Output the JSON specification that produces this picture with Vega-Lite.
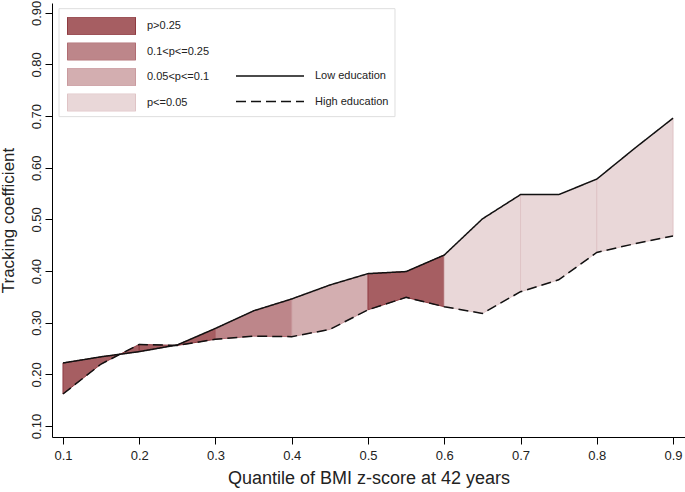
{
  "$schema": "https://vega.github.io/schema/vega-lite/v6.json",
  "autosize": "none",
  "width": 633,
  "height": 434,
  "padding": {"left": 52, "top": 3, "right": 0, "bottom": 55},
  "background": "white",
  "config": {
    "view": {"stroke": null},
    "font": "Liberation Sans",
    "axis": {
      "domainColor": "#000000",
      "tickColor": "#000000",
      "tickSize": 7,
      "grid": false,
      "labelFont": "Liberation Sans",
      "labelFontSize": 13,
      "labelColor": "#222222",
      "titleFont": "Liberation Sans",
      "titleFontWeight": "normal",
      "titleColor": "#222222"
    },
    "legend": {
      "labelFont": "Liberation Sans",
      "labelFontSize": 11,
      "labelColor": "#222222"
    }
  },
  "datasets": {
    "curve": [
      {"q": 0.10, "low": 0.222, "high": 0.162},
      {"q": 0.15, "low": 0.234, "high": 0.220},
      {"q": 0.20, "low": 0.244, "high": 0.258},
      {"q": 0.25, "low": 0.257, "high": 0.256},
      {"q": 0.30, "low": 0.289, "high": 0.268},
      {"q": 0.35, "low": 0.323, "high": 0.274},
      {"q": 0.40, "low": 0.346, "high": 0.273},
      {"q": 0.45, "low": 0.373, "high": 0.287},
      {"q": 0.50, "low": 0.395, "high": 0.325},
      {"q": 0.55, "low": 0.399, "high": 0.349},
      {"q": 0.60, "low": 0.431, "high": 0.331},
      {"q": 0.65, "low": 0.501, "high": 0.318},
      {"q": 0.70, "low": 0.548, "high": 0.360},
      {"q": 0.75, "low": 0.548, "high": 0.383},
      {"q": 0.80, "low": 0.578, "high": 0.436},
      {"q": 0.85, "low": 0.638, "high": 0.453},
      {"q": 0.90, "low": 0.696, "high": 0.468}
    ],
    "bands": [
      {"seg": 1, "p": "p>0.25", "q": 0.10, "low": 0.222, "high": 0.162},
      {"seg": 1, "p": "p>0.25", "q": 0.15, "low": 0.234, "high": 0.220},
      {"seg": 1, "p": "p>0.25", "q": 0.20, "low": 0.244, "high": 0.258},
      {"seg": 2, "p": "p>0.25", "q": 0.20, "low": 0.244, "high": 0.258},
      {"seg": 2, "p": "p>0.25", "q": 0.25, "low": 0.257, "high": 0.256},
      {"seg": 2, "p": "p>0.25", "q": 0.30, "low": 0.289, "high": 0.268},
      {"seg": 3, "p": "0.1<p<=0.25", "q": 0.30, "low": 0.289, "high": 0.268},
      {"seg": 3, "p": "0.1<p<=0.25", "q": 0.35, "low": 0.323, "high": 0.274},
      {"seg": 3, "p": "0.1<p<=0.25", "q": 0.40, "low": 0.346, "high": 0.273},
      {"seg": 4, "p": "0.05<p<=0.1", "q": 0.40, "low": 0.346, "high": 0.273},
      {"seg": 4, "p": "0.05<p<=0.1", "q": 0.45, "low": 0.373, "high": 0.287},
      {"seg": 4, "p": "0.05<p<=0.1", "q": 0.50, "low": 0.395, "high": 0.325},
      {"seg": 5, "p": "p>0.25", "q": 0.50, "low": 0.395, "high": 0.325},
      {"seg": 5, "p": "p>0.25", "q": 0.55, "low": 0.399, "high": 0.349},
      {"seg": 5, "p": "p>0.25", "q": 0.60, "low": 0.431, "high": 0.331},
      {"seg": 6, "p": "p<=0.05", "q": 0.60, "low": 0.431, "high": 0.331},
      {"seg": 6, "p": "p<=0.05", "q": 0.65, "low": 0.501, "high": 0.318},
      {"seg": 6, "p": "p<=0.05", "q": 0.70, "low": 0.548, "high": 0.360},
      {"seg": 7, "p": "p<=0.05", "q": 0.70, "low": 0.548, "high": 0.360},
      {"seg": 7, "p": "p<=0.05", "q": 0.75, "low": 0.548, "high": 0.383},
      {"seg": 7, "p": "p<=0.05", "q": 0.80, "low": 0.578, "high": 0.436},
      {"seg": 8, "p": "p<=0.05", "q": 0.80, "low": 0.578, "high": 0.436},
      {"seg": 8, "p": "p<=0.05", "q": 0.85, "low": 0.638, "high": 0.453},
      {"seg": 8, "p": "p<=0.05", "q": 0.90, "low": 0.696, "high": 0.468}
    ]
  },
  "layer": [
    {
      "data": {"values": [{}]},
      "mark": {"type": "rect", "fill": "white", "stroke": "#dedede", "strokeWidth": 1},
      "encoding": {
        "x": {"datum": 0.0948, "type": "quantitative"},
        "x2": {"datum": 0.5354},
        "y": {"datum": 0.908, "type": "quantitative"},
        "y2": {"datum": 0.699}
      }
    },
    {
      "data": {"name": "bands"},
      "mark": {"type": "area", "strokeWidth": 1},
      "encoding": {
        "x": {
          "field": "q", "type": "quantitative",
          "scale": {"domain": [0.0856, 0.9157], "nice": false, "zero": false},
          "axis": {"values": [0.1, 0.2, 0.3, 0.4, 0.5, 0.6, 0.7, 0.8, 0.9], "format": ".1f", "title": "Quantile of BMI z-score at 42 years", "titleFontSize": 18, "labelPadding": 5, "titlePadding": 7}
        },
        "y": {
          "field": "low", "type": "quantitative",
          "scale": {"domain": [0.0787, 0.919], "nice": false, "zero": false},
          "axis": {"values": [0.1, 0.2, 0.3, 0.4, 0.5, 0.6, 0.7, 0.8, 0.9], "format": ".2f", "title": "Tracking coefficient", "titleFontSize": 17, "labelAngle": -90, "labelAlign": "center", "labelBaseline": "bottom", "labelPadding": 2, "titlePadding": 13}
        },
        "y2": {"field": "high"},
        "detail": {"field": "seg", "type": "nominal"},
        "fill": {
          "field": "p", "type": "nominal",
          "scale": {"domain": ["p>0.25", "0.1<p<=0.25", "0.05<p<=0.1", "p<=0.05"], "range": ["#a65e62", "#bd868a", "#d3aeb0", "#e9d7d8"]},
          "legend": {"title": null, "orient": "none", "legendX": 15, "legendY": 14, "padding": 0, "symbolType": "M-1,-0.26H1V0.26H-1Z", "symbolSize": 4624, "symbolStrokeWidth": 1, "clipHeight": 18, "rowPadding": 7.5, "labelOffset": 11}
        },
        "stroke": {
          "field": "p", "type": "nominal",
          "scale": {"domain": ["p>0.25", "0.1<p<=0.25", "0.05<p<=0.1", "p<=0.05"], "range": ["#8e3a40", "#b06c72", "#c99a9e", "#dfc4c6"]},
          "legend": {"title": null, "orient": "none", "legendX": 15, "legendY": 14, "padding": 0, "symbolType": "M-1,-0.26H1V0.26H-1Z", "symbolSize": 4624, "symbolStrokeWidth": 1, "clipHeight": 18, "rowPadding": 7.5, "labelOffset": 11}
        }
      }
    },
    {
      "data": {"name": "curve"},
      "transform": [{"fold": ["low", "high"], "as": ["group", "value"]}, {"lookup": "group", "from": {"data": {"values": [{"group": "low", "edu": "Low education"}, {"group": "high", "edu": "High education"}]}, "key": "group", "fields": ["edu"]}}],
      "mark": {"type": "line", "color": "#111111", "strokeWidth": 1.5},
      "encoding": {
        "x": {"field": "q", "type": "quantitative"},
        "y": {"field": "value", "type": "quantitative"},
        "detail": {"field": "edu", "type": "nominal"},
        "strokeDash": {
          "field": "edu", "type": "nominal",
          "scale": {"domain": ["Low education", "High education"], "range": [[1, 0], [10, 5]]},
          "legend": {"title": null, "orient": "none", "legendX": 183, "legendY": 64, "padding": 0, "symbolType": "stroke", "symbolSize": 4624, "symbolStrokeWidth": 1.5, "symbolStrokeColor": "#111111", "clipHeight": 18, "rowPadding": 7.5, "labelOffset": 10}
        }
      }
    }
  ]
}
